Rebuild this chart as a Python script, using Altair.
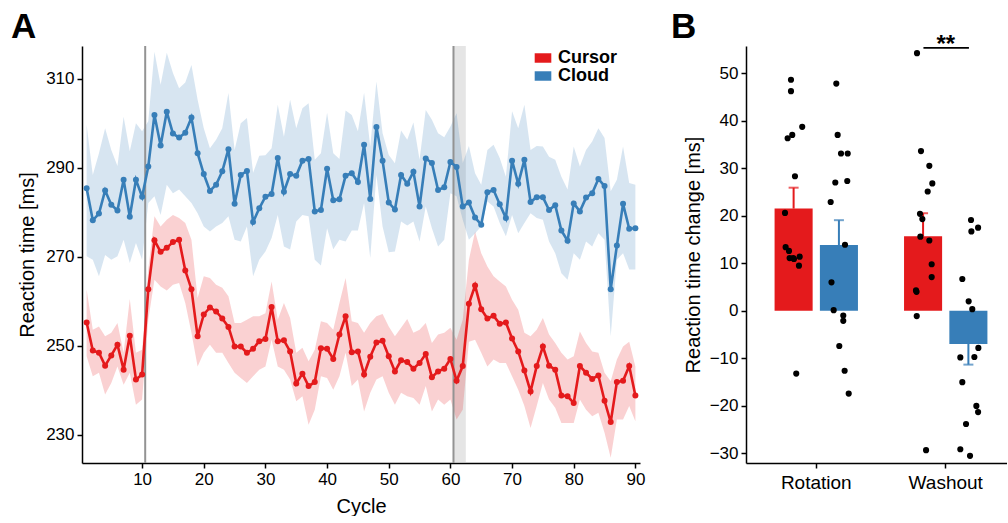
import altair as alt
import pandas as pd

# ---------------- Panel A data ----------------
cycles = list(range(1, 91))

cursor_mean = [255.2, 248.9, 248.4, 245.5, 247.8, 250.2, 244.6, 252.2, 242.4, 243.5,
               262.7, 273.7, 271.1, 272.0, 273.3, 273.8, 266.9, 262.7, 252.1, 257.0,
               258.6, 257.7, 256.1, 254.2, 249.8, 249.8, 248.4, 249.3, 251.0, 251.5,
               258.7, 251.0, 251.2, 248.7, 241.5, 243.7, 240.9, 241.8, 249.4, 249.3,
               247.0, 252.5, 256.6, 248.5, 248.7, 243.5, 247.5, 250.7, 251.1, 247.6,
               244.2, 246.7, 246.3, 244.8, 246.1, 248.1, 242.9, 244.2, 244.8, 247.0,
               242.1, 245.4, 259.4, 263.5, 258.2, 256.1, 256.7, 254.9, 255.2, 251.6,
               248.7, 244.4, 239.7, 245.4, 249.8, 245.5, 244.6, 238.8, 238.6, 237.1,
               245.4, 243.9, 242.5, 243.3, 237.6, 232.8, 241.8, 242.1, 245.4, 238.8]
cursor_upper = [262.6, 253.6, 254.3, 252.1, 252.9, 255.1, 248.4, 260.5, 248.4, 249.1,
                267.1, 279.1, 276.8, 278.3, 279.4, 278.7, 277.6, 273.8, 260.7, 265.6,
                265.2, 263.7, 263.0, 261.1, 255.1, 255.1, 255.8, 256.6, 256.6, 257.3,
                264.4, 255.8, 259.6, 256.2, 248.4, 249.5, 246.5, 249.1, 255.5, 255.1,
                253.6, 259.6, 265.2, 255.5, 255.1, 252.9, 255.1, 256.6, 257.1, 254.3,
                252.1, 254.0, 256.0, 252.9, 253.6, 255.1, 250.6, 252.5, 252.9, 254.0,
                251.3, 255.8, 269.3, 275.7, 270.8, 267.8, 265.6, 264.4, 263.3, 260.3,
                258.1, 252.9, 252.1, 253.6, 256.2, 252.5, 250.6, 248.4, 246.9, 247.6,
                253.2, 250.6, 248.7, 248.4, 243.9, 242.0, 246.9, 249.8, 250.9, 245.3]
cursor_lower = [247.6, 243.1, 243.9, 239.0, 241.6, 245.3, 241.2, 243.9, 236.7, 237.9,
                255.8, 264.8, 263.3, 262.4, 263.7, 264.1, 259.6, 252.9, 245.3, 248.4,
                250.2, 248.4, 248.4, 246.1, 243.9, 242.7, 241.6, 243.1, 244.6, 245.3,
                251.3, 245.3, 244.6, 242.4, 237.5, 238.6, 232.2, 235.6, 243.1, 242.7,
                240.1, 243.1, 248.4, 240.9, 242.4, 235.2, 239.4, 242.4, 243.1, 239.4,
                236.7, 239.4, 238.6, 238.2, 236.7, 240.9, 235.2, 237.9, 236.7, 237.9,
                233.4, 235.6, 250.9, 251.3, 248.4, 245.3, 246.9, 246.1, 246.1, 243.1,
                240.1, 236.4, 231.5, 236.4, 241.6, 237.9, 236.0, 232.6, 232.6, 232.6,
                237.9, 235.6, 234.1, 234.9, 230.4, 224.8, 233.4, 233.4, 236.4, 233.0]

cloud_mean = [285.4, 278.2, 279.7, 284.9, 281.7, 280.4, 287.3, 279.0, 287.3, 283.5,
              290.3, 301.9, 295.0, 302.6, 297.7, 296.8, 297.9, 301.3, 293.3, 288.6,
              284.8, 286.2, 289.2, 294.2, 281.9, 288.4, 289.3, 277.8, 280.9, 283.5,
              284.1, 292.2, 284.6, 288.6, 288.2, 291.6, 292.0, 280.2, 280.5, 289.8,
              282.7, 282.9, 288.2, 288.8, 286.8, 295.2, 283.0, 299.2, 291.6, 282.2,
              280.6, 288.4, 286.4, 289.1, 281.3, 292.1, 291.1, 285.0, 285.6, 291.3,
              290.2, 281.3, 282.2, 278.8, 277.2, 284.5, 285.0, 281.8, 278.7, 291.6,
              286.4, 291.8, 282.3, 283.4, 283.4, 280.5, 281.6, 275.9, 273.6, 282.0,
              280.2, 283.3, 284.3, 287.5, 285.9, 262.7, 272.5, 281.9, 276.3, 276.4]
cloud_upper = [299.7, 288.4, 293.3, 298.9, 294.0, 290.4, 301.5, 293.7, 300.0, 298.2,
               300.5, 316.1, 308.7, 315.9, 311.3, 307.9, 309.2, 313.1, 305.3, 298.9,
               294.4, 296.3, 298.9, 306.8, 294.0, 300.0, 301.2, 288.9, 292.7, 292.8,
               294.4, 304.2, 297.0, 305.3, 298.9, 303.4, 304.5, 291.8, 293.3, 302.4,
               293.3, 292.0, 302.9, 301.9, 298.2, 306.9, 294.8, 309.4, 297.8, 292.9,
               291.0, 298.4, 296.3, 300.2, 291.8, 303.0, 300.8, 297.8, 296.9, 299.3,
               302.3, 291.1, 294.9, 288.8, 286.2, 294.0, 295.2, 292.2, 288.0, 302.7,
               298.9, 304.2, 294.0, 294.9, 294.8, 292.5, 291.8, 288.0, 285.1, 294.8,
               290.3, 294.0, 295.9, 298.9, 296.7, 284.7, 287.3, 294.8, 286.6, 286.2]
cloud_lower = [270.1, 269.3, 265.6, 270.4, 269.3, 270.1, 273.8, 268.6, 273.1, 269.3,
               282.1, 283.6, 279.4, 286.2, 284.3, 285.1, 283.6, 282.1, 279.8, 276.8,
               275.7, 276.8, 277.6, 279.1, 273.8, 273.4, 276.8, 265.6, 269.3, 271.2,
               274.2, 279.4, 272.3, 271.6, 277.9, 279.4, 279.1, 269.3, 268.0, 276.4,
               271.7, 273.8, 273.4, 275.9, 275.9, 282.1, 269.7, 288.4, 276.8, 271.0,
               271.2, 277.9, 277.0, 277.9, 273.4, 281.3, 276.4, 272.3, 273.8, 284.3,
               283.6, 278.3, 273.8, 275.3, 276.8, 282.4, 281.3, 277.6, 274.6, 279.4,
               275.3, 277.6, 279.8, 278.7, 278.3, 273.4, 270.8, 266.3, 264.8, 270.8,
               269.3, 273.4, 272.3, 275.3, 273.8, 252.1, 269.3, 270.8, 267.1, 267.1]

conditions = ["Cursor", "Cloud"]
colors = ["#e41a1c", "#377eb8"]
phase_lines = [10.5, 60.5]
shade_start = [60.5]
shade_end = [62.5]

# ---------------- Panel B data ----------------
phases = ["Rotation", "Washout"]
rot_cursor = [48.6, 46.2, 38.7, 37.0, 36.3, 28.3, 20.6, 13.4, 12.6, 11.1, 11.1, 11.4, 10.9, 9.5, -13.2]
rot_cursor_jit = [0.221, 0.221, 0.345, 0.235, 0.184, 0.265, 0.155, 0.162, 0.199, 0.206, 0.246, 0.317, 0.254, 0.309, 0.279]
rot_cloud = [47.8, 37.0, 33.1, 33.1, 27.0, 27.3, 22.9, 13.9, 6.0, 0.15, -1.0, -2.1, -7.4, -12.6, -17.4]
rot_cloud_jit = [0.721, 0.736, 0.773, 0.847, 0.710, 0.842, 0.659, 0.817, 0.668, 0.692, 0.798, 0.798, 0.754, 0.813, 0.858]
wash_cursor = [54.2, 33.6, 30.5, 26.8, 25.1, 20.4, 19.3, 15.6, 14.8, 9.8, 7.1, 4.3, 4.0, -1.1, -29.3]
wash_cursor_jit = [0.183, 0.227, 0.319, 0.352, 0.301, 0.216, 0.242, 0.220, 0.319, 0.345, 0.345, 0.172, 0.178, 0.180, 0.283]
wash_cloud = [19.1, 16.7, 17.5, 6.7, 2.0, 0.36, -7.8, -9.7, -9.8, -15.0, -20.0, -21.3, -23.8, -29.1, -30.5]
wash_cloud_jit = [0.779, 0.783, 0.857, 0.683, 0.753, 0.793, 0.860, 0.816, 0.661, 0.683, 0.838, 0.857, 0.724, 0.661, 0.768]
sig_phase = ["Washout"]
sig_level = [55.3]
sig_span = [0.254, 0.756]   # the two compared bars (Cursor, Cloud) within the Washout group
sig_label = ["**"]

FONT = "Liberation Sans"

# ---------------- build tables ----------------
rowsA = []
for cond, m, lo, up in [("Cursor", cursor_mean, cursor_lower, cursor_upper),
                        ("Cloud", cloud_mean, cloud_lower, cloud_upper)]:
    for c, a, b, d in zip(cycles, m, lo, up):
        rowsA.append(dict(cycle=c, cond=cond, mean=a, lower=b, upper=d))
dfA = pd.DataFrame(rowsA)

rowsB = []
for ph, cond, vals, jit in [("Rotation", "Cursor", rot_cursor, rot_cursor_jit),
                            ("Rotation", "Cloud", rot_cloud, rot_cloud_jit),
                            ("Washout", "Cursor", wash_cursor, wash_cursor_jit),
                            ("Washout", "Cloud", wash_cloud, wash_cloud_jit)]:
    for v, j in zip(vals, jit):
        rowsB.append(dict(phase=ph, cond=cond, value=v, jitter=j))
dfB = pd.DataFrame(rowsB)

color_scale = alt.Scale(domain=conditions, range=colors)

# ---------------- Panel A ----------------
xA = alt.Scale(domain=[0.25, 90.75], nice=False, zero=False)
yA = alt.Scale(domain=[223.6, 317.4], nice=False, zero=False)
xA_enc = alt.X("cycle:Q", scale=xA,
               axis=alt.Axis(values=list(range(10, 91, 10)), title="Cycle", titlePadding=9))
yA_axis = alt.Axis(values=[230, 250, 270, 290, 310], title="Reaction time [ms]", titlePadding=8)

shade = alt.Chart(pd.DataFrame({"s": shade_start, "e": shade_end})).mark_rect(
    color="#bdbdbd", opacity=0.4).encode(x=alt.X("s:Q", scale=xA), x2="e:Q")

bands = alt.Chart(dfA).mark_area(opacity=0.2).encode(
    x=xA_enc,
    y=alt.Y("lower:Q", scale=yA, axis=yA_axis),
    y2="upper:Q",
    fill=alt.Fill("cond:N", scale=color_scale, legend=None),
)

vrules = alt.Chart(pd.DataFrame({"c": phase_lines})).mark_rule(
    color="#939393", strokeWidth=2).encode(x=alt.X("c:Q", scale=xA))

lines = alt.Chart(dfA).mark_line(strokeWidth=2.6).encode(
    x=xA_enc, y=alt.Y("mean:Q", scale=yA, axis=yA_axis),
    stroke=alt.Stroke("cond:N", scale=color_scale, legend=None),
)

pts = alt.Chart(dfA).mark_point(filled=True, opacity=1, size=36).encode(
    x=xA_enc, y=alt.Y("mean:Q", scale=yA, axis=yA_axis),
    color=alt.Color("cond:N", scale=color_scale,
                    legend=alt.Legend(title=None, orient="none", legendX=452, legendY=3,
                                      symbolType="M-1,-0.57H1V0.57H-1Z", symbolSize=276,
                                      labelFontSize=18, labelFontWeight="bold", labelFont=FONT,
                                      labelColor="black", labelOffset=6, rowPadding=0,
                                      symbolStrokeWidth=0)),
)

labA = alt.Chart(pd.DataFrame({"t": ["A"]})).mark_text(
    fontSize=35, fontWeight="bold", font=FONT, align="left", baseline="alphabetic",
    color="black").encode(text="t:N", x=alt.value(-71), y=alt.value(-8))

panelA = alt.layer(shade, bands, vrules, lines, pts, labA).properties(width=558, height=417)

# ---------------- Panel B ----------------
xB = alt.Scale(domain=phases, paddingInner=0.3, paddingOuter=0.158, align=0.61)
off_scale = alt.Scale(domain=conditions, paddingInner=0.16, paddingOuter=0.08)
jit_scale = alt.Scale(domain=[0, 1], nice=False, zero=False)
yB = alt.Scale(domain=[-32.0, 55.7], nice=False, zero=False)
xB_enc = alt.X("phase:N", scale=xB, sort=phases,
               axis=alt.Axis(title=None, labelAngle=0, labelFontSize=19, labelPadding=5))
yB_axis = alt.Axis(values=list(range(-30, 51, 10)), title="Reaction time change [ms]", titlePadding=6)
offB = alt.XOffset("cond:N", scale=off_scale, sort=conditions)
colB = alt.Color("cond:N", scale=color_scale, legend=None)

agg = alt.Chart(dfB).transform_aggregate(
    mean="mean(value)", se="stderr(value)", groupby=["phase", "cond"]
).transform_calculate(tip="datum.mean + (datum.mean >= 0 ? datum.se : -datum.se)")

bars = agg.mark_bar().encode(
    x=xB_enc, xOffset=offB, y=alt.Y("mean:Q", scale=yB, axis=yB_axis), y2=alt.datum(0), color=colB)
err = agg.mark_rule(strokeWidth=2).encode(
    x=xB_enc, xOffset=offB, y=alt.Y("mean:Q", scale=yB), y2="tip:Q", color=colB)
caps = agg.mark_tick(orient="horizontal", size=10, thickness=2).encode(
    x=xB_enc, xOffset=offB, y=alt.Y("tip:Q", scale=yB), color=colB)

dots = alt.Chart(dfB).mark_circle(size=38, color="black", opacity=1).encode(
    x=xB_enc,
    xOffset=alt.XOffset("jitter:Q", scale=jit_scale),
    y=alt.Y("value:Q", scale=yB),
)

sig_df = pd.DataFrame({"phase": sig_phase * 2, "pos": sig_span, "y": sig_level * 2})
sig_line = alt.Chart(sig_df).mark_line(color="black", strokeWidth=1.8).encode(
    x=xB_enc, xOffset=alt.XOffset("pos:Q", scale=jit_scale), y=alt.Y("y:Q", scale=yB))
sig_txt = alt.Chart(pd.DataFrame({"phase": sig_phase, "y": sig_level, "t": sig_label})).mark_text(
    fontSize=24, fontWeight="bold", font=FONT, baseline="alphabetic", dy=4, color="black"
).encode(x=xB_enc, y=alt.Y("y:Q", scale=yB), text="t:N")

labB = alt.Chart(pd.DataFrame({"t": ["B"]})).mark_text(
    fontSize=35, fontWeight="bold", font=FONT, align="left", baseline="alphabetic",
    color="black").encode(text="t:N", x=alt.value(-75), y=alt.value(-8))

panelB = alt.layer(bars, err, caps, dots, sig_line, sig_txt, labB).resolve_scale(
    xOffset="independent").properties(width=261, height=417)

chart = alt.hconcat(panelA, panelB, spacing=26).resolve_scale(
    color="independent").resolve_legend(color="independent").properties(
    padding={"left": 11, "top": 10, "right": 0, "bottom": 0}, background="white"
).configure_view(stroke=None).configure_axis(
    domainColor="black", domainWidth=1.5, tickColor="black", tickWidth=1.5, tickSize=5,
    labelColor="black", labelFont=FONT, labelFontSize=17, titleFont=FONT, titleFontSize=20,
    titleFontWeight="normal", titleColor="black", grid=False, labelPadding=3
)

chart.save("out.html", embed_options={"renderer": "svg", "actions": False})
